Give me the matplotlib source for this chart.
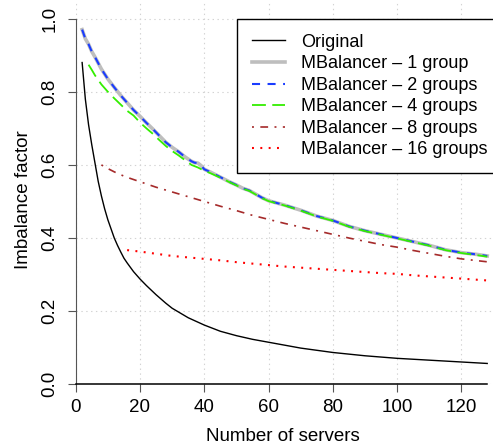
import matplotlib
matplotlib.use("Agg")
import matplotlib.pyplot as plt

plt.rcParams["font.family"] = ["Liberation Sans", "DejaVu Sans"]
plt.rcParams["lines.scale_dashes"] = False

# values
orig_x = [2, 3, 4, 5, 6, 7, 8, 9, 10, 11, 12, 13, 14, 15, 16, 18, 20, 22, 25, 28, 30,
          35, 40, 45, 50, 55, 60, 70, 80, 90, 100, 110, 120, 128]
orig_y = [0.88, 0.78, 0.71, 0.655, 0.605, 0.555, 0.515, 0.48, 0.45, 0.425, 0.40, 0.38,
          0.362, 0.345, 0.332, 0.308, 0.288, 0.27, 0.245, 0.222, 0.208, 0.182, 0.162,
          0.145, 0.133, 0.123, 0.115, 0.099, 0.087, 0.078, 0.071, 0.066, 0.061, 0.057]

g1_x = [2, 3, 4, 5, 6, 8, 10, 12, 14, 16, 18, 20, 22, 24, 26, 28, 30, 32, 34, 36, 37, 38,
        39, 40, 42, 44, 46, 48, 50, 52, 54, 56, 58, 60, 65, 70, 75, 80, 85, 90, 95, 100,
        105, 110, 115, 120, 125, 128]
g1_y = [0.97, 0.945, 0.93, 0.91, 0.895, 0.862, 0.835, 0.812, 0.79, 0.77, 0.75, 0.733,
        0.715, 0.698, 0.68, 0.662, 0.648, 0.636, 0.622, 0.61, 0.606, 0.605, 0.598, 0.588,
        0.58, 0.571, 0.562, 0.553, 0.545, 0.536, 0.53, 0.52, 0.51, 0.502, 0.49, 0.476,
        0.46, 0.448, 0.432, 0.42, 0.41, 0.40, 0.39, 0.38, 0.368, 0.36, 0.355, 0.351]

g2_x = [2, 3, 4, 5, 6, 8, 10, 12, 14, 16, 18, 20, 22, 24, 26, 28, 30, 32, 34, 36, 37, 38,
        39, 40, 42, 44, 46, 48, 50, 52, 54, 56, 58, 60, 65, 70, 75, 80, 85, 90, 95, 100,
        105, 110, 115, 120, 125, 128]
g2_y = [0.97, 0.945, 0.93, 0.91, 0.895, 0.862, 0.835, 0.812, 0.79, 0.77, 0.75, 0.733,
        0.715, 0.698, 0.68, 0.662, 0.648, 0.636, 0.622, 0.61, 0.606, 0.605, 0.598, 0.588,
        0.58, 0.571, 0.562, 0.553, 0.545, 0.536, 0.53, 0.52, 0.51, 0.502, 0.49, 0.476,
        0.46, 0.448, 0.432, 0.42, 0.41, 0.40, 0.39, 0.38, 0.368, 0.36, 0.355, 0.351]

g4_x = [4, 5, 6, 8, 10, 12, 14, 16, 18, 20, 22, 24, 26, 28, 30, 32, 34, 36, 38, 40, 42,
        44, 46, 48, 50, 52, 54, 56, 58, 60, 65, 70, 75, 80, 85, 90, 95, 100, 105, 110,
        115, 120, 125, 128]
g4_y = [0.874, 0.86, 0.845, 0.82, 0.80, 0.782, 0.765, 0.748, 0.735, 0.716, 0.70, 0.685,
        0.668, 0.652, 0.638, 0.626, 0.613, 0.60, 0.593, 0.584, 0.577, 0.569, 0.561, 0.552,
        0.544, 0.535, 0.529, 0.519, 0.509, 0.501, 0.489, 0.475, 0.459, 0.447, 0.431,
        0.419, 0.409, 0.399, 0.389, 0.379, 0.367, 0.359, 0.353, 0.349]

g8_x = [8, 10, 12, 14, 16, 20, 25, 30, 35, 40, 45, 50, 55, 60, 65, 70, 75, 80, 85, 90,
        95, 100, 105, 110, 115, 120, 125, 128]
g8_y = [0.60, 0.59, 0.581, 0.573, 0.566, 0.554, 0.539, 0.526, 0.513, 0.50, 0.487, 0.475,
        0.462, 0.451, 0.44, 0.43, 0.42, 0.41, 0.40, 0.391, 0.382, 0.375, 0.366, 0.358,
        0.35, 0.343, 0.338, 0.335]

g16_x = [16, 20, 25, 30, 35, 40, 45, 50, 55, 60, 65, 70, 75, 80, 85, 90, 95, 100, 105,
         110, 115, 120, 128]
g16_y = [0.367, 0.363, 0.357, 0.351, 0.347, 0.343, 0.339, 0.334, 0.33, 0.326, 0.322,
         0.319, 0.316, 0.313, 0.31, 0.307, 0.304, 0.302, 0.298, 0.295, 0.292, 0.289, 0.284]

labels = ["Original", "MBalancer \u2013 1 group", "MBalancer \u2013 2 groups",
          "MBalancer \u2013 4 groups", "MBalancer \u2013 8 groups", "MBalancer \u2013 16 groups"]

fig = plt.figure(figsize=(4.93, 4.48), dpi=100)
ax = fig.add_axes([75.7 / 493, (448 - 384.3) / 448, 1 - 75.7 / 493, 384.3 / 448])

ax.plot(orig_x, orig_y, color="black", lw=1.0, label=labels[0])
ax.plot(g1_x, g1_y, color="#bebebe", lw=2.6, label=labels[1])
ax.plot(g2_x, g2_y, color="#1a3cff", lw=1.5, dashes=(5.8, 5.4), label=labels[2])
ax.plot(g4_x, g4_y, color="#33ee00", lw=1.3, dashes=(10, 4.6), label=labels[3])
ax.plot(g8_x, g8_y, color="#a52a2a", lw=1.2, dashes=(1.4, 4.6, 5.6, 4.6), label=labels[4])
ax.plot(g16_x, g16_y, color="red", lw=1.5, dashes=(1.4, 4.6), label=labels[5])

ax.set_xlim(0, 129.8)
ax.set_ylim(0, 1.051)
ax.set_xticks([0, 20, 40, 60, 80, 100, 120])
ax.set_yticks([0.0, 0.2, 0.4, 0.6, 0.8, 1.0])
ax.set_yticklabels(["0.0", "0.2", "0.4", "0.6", "0.8", "1.0"])
ax.grid(True, color="#d3d3d3", linestyle=(0, (1, 2.5)), lw=0.8)
ax.set_axisbelow(True)

for s in ["top", "right"]:
    ax.spines[s].set_visible(False)
ax.spines["left"].set_bounds(0, 1)
ax.spines["left"].set_color("#555555")
ax.spines["bottom"].set_bounds(0, 128)
ax.spines["bottom"].set_linewidth(1.1)
ax.tick_params(axis="both", length=5.5, width=0.8, color="#555555", labelsize=13.5)
ax.tick_params(axis="x", pad=5)
ax.tick_params(axis="y", pad=7)
for t in ax.get_yticklabels():
    t.set_rotation(90)
    t.set_va("center")

ax.set_xlabel("Number of servers", fontsize=13.5)
ax.set_ylabel("Imbalance factor", fontsize=13.5)
ax.xaxis.set_label_coords(0.4956, -0.113)
ax.yaxis.set_label_coords(-0.105, 0.48)

leg = ax.legend(loc="upper left", bbox_to_anchor=(237 / 493, 1 - 19 / 448),
                bbox_transform=fig.transFigure, fontsize=13, frameon=True,
                fancybox=False, borderaxespad=0, borderpad=0.82, handlelength=1.85,
                handletextpad=0.9, labelspacing=0.25)
leg.get_frame().set_edgecolor("black")
leg.get_frame().set_linewidth(1.0)
leg.get_frame().set_alpha(1)

fig.savefig("out.png", dpi=100)
